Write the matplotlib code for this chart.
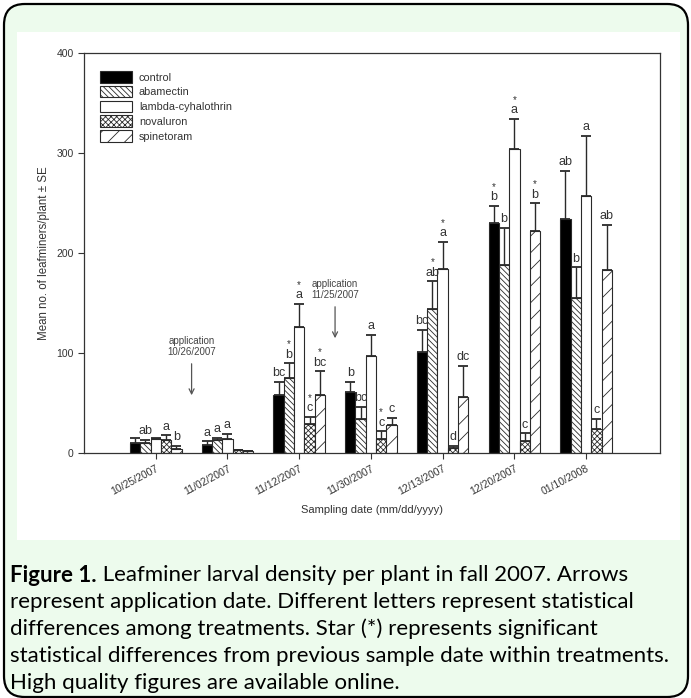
import matplotlib
matplotlib.use("Agg")
import matplotlib.pyplot as plt
from matplotlib.patches import FancyBboxPatch, Rectangle
import numpy as np

# ---------------- data ----------------
dates = ["10/25/2007", "11/02/2007", "11/12/2007", "11/30/2007",
         "12/13/2007", "12/20/2007", "01/10/2008"]
treatments = ["control", "abamectin", "lambda-cyhalothrin", "novaluron", "spinetoram"]

control = [10.5, 8.5, 58, 61.5, 101.5, 230, 234.5]
control_se = [4.5, 3.5, 13, 9.5, 22, 17.5, 48]
abamectin = [10, 13, 75, 34.5, 144, 188, 155]
abamectin_se = [3, 2.5, 15, 12, 28, 37, 31]
lambda_cy = [14, 14, 126.5, 97.5, 184, 304, 257.5]
lambda_cy_se = [1, 5.5, 22.5, 21, 27, 30.5, 60]
novaluron = [13, 3, 29, 14.5, 5, 12, 24.5]
novaluron_se = [5, 0, 7.5, 7.5, 2, 8, 10]
spinetoram = [4.5, 2, 58, 28, 56.5, 222.5, 183]
spinetoram_se = [2.5, 0, 24, 7, 31, 27.5, 45.5]

letters_control = ["", "a", "bc", "b", "bc", "b", "ab"]
letters_abamectin = ["ab", "a", "b", "bc", "ab", "b", "b"]
letters_lambda = ["", "a", "a", "a", "a", "a", "a"]
letters_novaluron = ["a", "", "c", "c", "d", "c", "c"]
letters_spinetoram = ["b", "", "bc", "c", "dc", "b", "ab"]

stars_control = [0, 0, 0, 0, 0, 1, 0]
stars_abamectin = [0, 0, 1, 0, 1, 0, 0]
stars_lambda = [0, 0, 1, 0, 1, 1, 0]
stars_novaluron = [0, 0, 1, 1, 0, 0, 0]
stars_spinetoram = [0, 0, 1, 0, 0, 1, 0]

applications = ["10/26/2007", "11/25/2007"]

caption_bold = "Figure 1."
caption_rest = " Leafminer larval density per plant in fall 2007. Arrows"
caption_lines = [
    "represent application date. Different letters represent statistical",
    "differences among treatments. Star (*) represents significant",
    "statistical differences from previous sample date within treatments.",
    "High quality figures are available online.",
]

# ---------------- figure ----------------
W, H = 691, 698
fig = plt.figure(figsize=(W / 100, H / 100), dpi=100)
fig.patch.set_facecolor("white")

def fx(px):
    return px / W

def fy(py):
    return 1 - py / H

# outer rounded frame
frame = FancyBboxPatch((fx(4), fy(697)), fx(684), (697 - 4) / H,
                       boxstyle="round,pad=0,rounding_size=0.03",
                       transform=fig.transFigure, facecolor="#edfbed",
                       edgecolor="black", linewidth=1.6, zorder=-3)
fig.patches.append(frame)
# white chart panel
panel = Rectangle((fx(17), fy(540)), fx(663), (540 - 32) / H,
                  transform=fig.transFigure, facecolor="white",
                  edgecolor="none", zorder=-2)
fig.patches.append(panel)

ax = fig.add_axes([fx(84), fy(453), fx(660 - 84), (453 - 53) / H])
ax.set_zorder(1)
ax.set_facecolor("white")

plt.rcParams["hatch.linewidth"] = 0.6
font = "Liberation Sans"
tc = "#333333"

series = [control, abamectin, lambda_cy, novaluron, spinetoram]
ses = [control_se, abamectin_se, lambda_cy_se, novaluron_se, spinetoram_se]
letters = [letters_control, letters_abamectin, letters_lambda,
           letters_novaluron, letters_spinetoram]
stars = [stars_control, stars_abamectin, stars_lambda, stars_novaluron,
         stars_spinetoram]
faces = ["black", "white", "white", "white", "white"]
hatches = [None, "\\\\\\\\\\\\", None, "xxxxxx", "//"]

x = np.arange(1, len(dates) + 1)
bw = 0.144
for i, (vals, se) in enumerate(zip(series, ses)):
    pos = x + (i - 2) * bw
    ax.bar(pos, vals, width=bw, color=faces[i], edgecolor="#2a2a2a",
           hatch=hatches[i], linewidth=0.8, label=treatments[i], zorder=2)
    ax.errorbar(pos, vals, yerr=[np.zeros(len(vals)), se], fmt="none",
                ecolor="#2a2a2a", elinewidth=1.0, capsize=3.6, capthick=1.3,
                zorder=3)
    for j, p in enumerate(pos):
        top = vals[j] + se[j]
        if letters[i][j]:
            ax.text(p, top + 2.5, letters[i][j], ha="center", va="bottom",
                    fontsize=9, color=tc, family=font)
        if stars[i][j]:
            ax.text(p, top + 13.5, "*", ha="center", va="bottom",
                    fontsize=7, color=tc, family=font)

# application arrows
for xa, lab, y0, y1 in [(1.5, applications[0], 92, 55),
                        (3.5, applications[1], 149, 112)]:
    ax.annotate("", xy=(xa, y1), xytext=(xa, y0),
                arrowprops=dict(arrowstyle="->", color="#555555", lw=0.9,
                                mutation_scale=9))
    ax.text(xa, y0 + 4, "application\n" + lab, ha="center", va="bottom",
            fontsize=7, color="#444444", family=font, linespacing=1.15)

ax.set_xlim(0, 8.03)
ax.set_ylim(0, 400)
ax.set_yticks([0, 100, 200, 300, 400])
ax.set_yticklabels(["0", "100", "200", "300", "400"], family=font,
                   fontsize=7.5, color=tc)
ax.set_xticks(x)
ax.set_xticklabels(dates, rotation=28, ha="right", rotation_mode="anchor",
                   family=font, fontsize=7.5, color=tc)
ax.tick_params(axis="both", direction="out", length=4, width=0.8,
               color="#333333")
for s in ax.spines.values():
    s.set_linewidth(0.9)
    s.set_color("#333333")

leg = ax.legend(loc="upper left", bbox_to_anchor=(0.02, 0.965), frameon=False,
                prop={"family": font, "size": 7.8}, handlelength=3.0,
                handleheight=1.25, labelspacing=0.3, handletextpad=0.6,
                borderaxespad=0)
for t in leg.get_texts():
    t.set_color(tc)

fig.text(fx(372), fy(510), "Sampling date (mm/dd/yyyy)", ha="center",
         va="center", fontsize=8, color=tc, family=font)
fig.text(fx(44), fy(253), "Mean no. of leafminers/plant \u00b1 SE",
         ha="center", va="center", rotation=90, fontsize=8.3, color=tc,
         family=font)

# caption
cfont = "Lato"
csize = 16
renderer = fig.canvas.get_renderer()
y_lines = [575, 602, 629, 656, 683]
tb = fig.text(fx(10), fy(y_lines[0]), caption_bold, ha="left",
              va="center", fontsize=csize, weight="bold", family=cfont,
              color="black")
bb = tb.get_window_extent(renderer=renderer)
fig.text(bb.x1 / W, fy(y_lines[0]), caption_rest, ha="left", va="center",
         fontsize=csize, family=cfont, color="black")
for yl, line in zip(y_lines[1:], caption_lines):
    fig.text(fx(10), fy(yl), line, ha="left", va="center", fontsize=csize,
             family=cfont, color="black")

fig.savefig("out.png", dpi=100)
